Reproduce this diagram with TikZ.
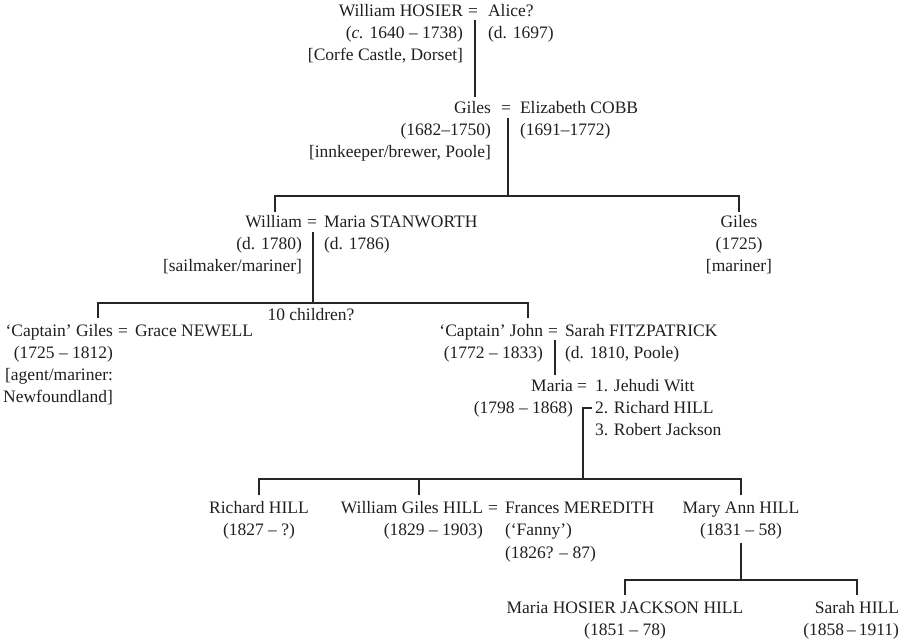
\documentclass[tikz,border=0pt]{standalone}
\usepackage{fontspec}
\setmainfont{Liberation Serif}
\newcommand{\famfont}{\fontsize{17.5}{22}\selectfont}
\tikzset{
  nm/.style={inner sep=0pt, outer sep=0pt, font=\famfont, text=black!88},
  nmE/.style={nm, anchor=base east},
  nmW/.style={nm, anchor=base west},
  nmC/.style={nm, anchor=base},
  ln/.style={line width=1.3pt, draw=black!85}
}
\begin{document}
\begin{tikzpicture}[x=1pt,y=-1pt]
\useasboundingbox (0,0) rectangle (900,639);
% Row 1
\node[nmE] (whosier) at (463,17) {William HOSIER};
\node[nmC] (e1) at (473,17) {=};
\node[nmW] (alice) at (488,17) {Alice?};
\node[nmE] (whd) at (463,39) {(\textit{c.} 1640 – 1738)};
\node[nmE] (whp) at (463,61) {[Corfe Castle, Dorset]};
\node[nmW] (ald) at (488,39) {(d. 1697)};
% Row 2
\node[nmE] (giles) at (491,114) {Giles};
\node[nmC] (e2) at (506,114) {=};
\node[nmW] (eliz) at (520,114) {Elizabeth COBB};
\node[nmE] (gilesd) at (491,136) {(1682–1750)};
\node[nmE] (gilesp) at (491,158) {[innkeeper/brewer, Poole]};
\node[nmW] (elizd) at (520,136) {(1691–1772)};
% Row 3
\node[nmE] (william) at (302,228) {William};
\node[nmC] (e3) at (312,228) {=};
\node[nmW] (mstan) at (324,228) {Maria STANWORTH};
\node[nmE] (willd) at (302,250) {(d. 1780)};
\node[nmE] (willp) at (302,272) {[sailmaker/mariner]};
\node[nmW] (mstand) at (324,250) {(d. 1786)};
\node[nmC] (giles2) at (739,228) {Giles};
\node[nmC] (giles2d) at (739,250) {(1725)};
\node[nmC] (giles2p) at (739,272) {[mariner]};
\node[nmC] (tenkids) at (311,320) {10 children?};
% Row 4
\node[nmE] (capgiles) at (113,336) {‘Captain’ Giles};
\node[nmC] (e4) at (123,336) {=};
\node[nmW] (grace) at (135,336) {Grace NEWELL};
\node[nmE] (capgilesd) at (113,358) {(1725 – 1812)};
\node[nmE] (capgilesp1) at (113,380) {[agent/mariner:};
\node[nmE] (capgilesp2) at (113,402) {Newfoundland]};
\node[nmE] (john) at (543,336) {‘Captain’ John};
\node[nmC] (e5) at (553,336) {=};
\node[nmW] (sarah) at (565,336) {Sarah FITZPATRICK};
\node[nmE] (johnd) at (543,358) {(1772 – 1833)};
\node[nmW] (sarahd) at (565,358) {(d. 1810, Poole)};
% Row 5
\node[nmE] (mariaw) at (573,391) {Maria};
\node[nmC] (e6) at (582,391) {=};
\node[nmW] (h1) at (595,391) {1. Jehudi Witt};
\node[nmE] (mariawd) at (573,413) {(1798 – 1868)};
\node[nmW] (h2) at (595,413) {2. Richard HILL};
\node[nmW] (h3) at (595,435) {3. Robert Jackson};
% Row 6
\node[nmC] (rich) at (259,513) {Richard HILL};
\node[nmC] (richd) at (259,535) {(1827 – ?)};
\node[nmE] (wgh) at (483,513) {William Giles HILL};
\node[nmC] (e7) at (493,513) {=};
\node[nmW] (fran) at (505,513) {Frances MEREDITH};
\node[nmE] (wghd) at (483,535) {(1829 – 1903)};
\node[nmW] (frann) at (505,535) {(‘Fanny’)};
\node[nmW] (frand) at (505,558) {(1826? – 87)};
\node[nmC] (mary) at (741,513) {Mary Ann HILL};
\node[nmC] (maryd) at (741,535) {(1831 – 58)};
% Row 7
\node[nmC] (mhjh) at (625,613) {Maria HOSIER JACKSON HILL};
\node[nmC] (mhjhd) at (625,635) {(1851 – 78)};
\node[nmE] (sarahh) at (899,613) {Sarah HILL};
\node[nmE] (sarahhd) at (899,635) {(1858\,–\,1911)};
% junction coordinates
\coordinate (c1a) at (475,20);
\coordinate (c1b) at (475,97);
\coordinate (c2a) at (508,118);
\coordinate (c2b) at (508,196);
\coordinate (c2l) at (275,196);
\coordinate (c2ld) at (275,212);
\coordinate (c2r) at (739,196);
\coordinate (c2rd) at (739,212);
\coordinate (c3a) at (313,232);
\coordinate (c3b) at (313,303);
\coordinate (c3l) at (98,303);
\coordinate (c3ld) at (98,318);
\coordinate (c3r) at (528,303);
\coordinate (c3rd) at (528,318);
\coordinate (c4a) at (555,340);
\coordinate (c4b) at (555,375);
\coordinate (c5t) at (592,408);
\coordinate (c5a) at (583,408);
\coordinate (c5b) at (583,479);
\coordinate (c5l) at (259,479);
\coordinate (c5ld) at (259,495);
\coordinate (c5m) at (419,479);
\coordinate (c5md) at (419,495);
\coordinate (c5r) at (741,479);
\coordinate (c5rd) at (741,495);
\coordinate (c6a) at (741,543);
\coordinate (c6b) at (741,580);
\coordinate (c6l) at (625,580);
\coordinate (c6ld) at (625,595);
\coordinate (c6r) at (857,580);
\coordinate (c6rd) at (857,595);
% connectors
\draw[ln] (c1a) -- (c1b);
\draw[ln] (c2a) -- (c2b);
\draw[ln] (c2ld) -- (c2l) -- (c2r) -- (c2rd);
\draw[ln] (c3a) -- (c3b);
\draw[ln] (c3ld) -- (c3l) -- (c3r) -- (c3rd);
\draw[ln] (c4a) -- (c4b);
\draw[ln] (c5t) -- (c5a) -- (c5b);
\draw[ln] (c5ld) -- (c5l) -- (c5r) -- (c5rd);
\draw[ln] (c5m) -- (c5md);
\draw[ln] (c6a) -- (c6b);
\draw[ln] (c6ld) -- (c6l) -- (c6r) -- (c6rd);
\end{tikzpicture}
\end{document}
